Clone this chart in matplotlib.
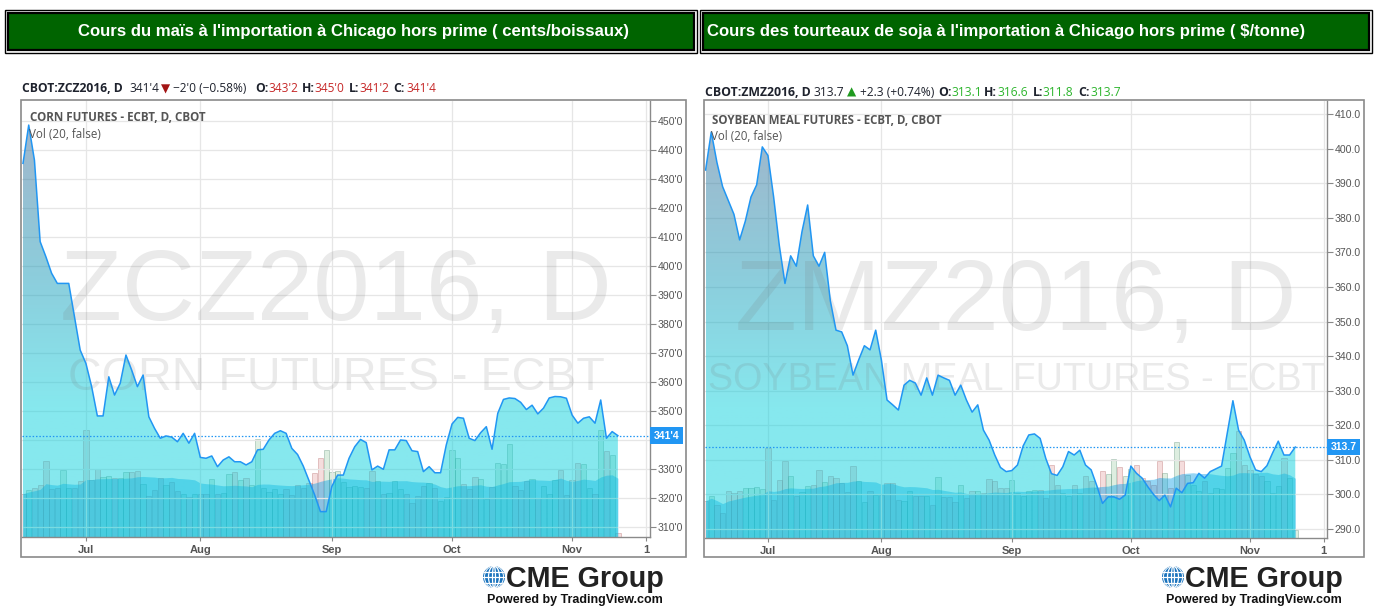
import matplotlib
matplotlib.use("Agg")
import matplotlib.pyplot as plt
import numpy as np
import pandas as pd
from matplotlib.patches import Rectangle, Polygon, Circle, Ellipse
from matplotlib.transforms import blended_transform_factory

plt.rcParams['font.family'] = ['Liberation Sans', 'DejaVu Sans']

# ---------------- data ----------------
title_left = "Cours du maïs à l'importation à Chicago hors prime ( cents/boissaux)"
title_right = "Cours des tourteaux de soja à l'importation à Chicago hors prime ( \\$/tonne)"

month_ticks = [11, 31, 54, 75, 96, 109]
month_labels = ['Jul', 'Aug', 'Sep', 'Oct', 'Nov', '1']

corn_price = [435.4, 448.6, 436.5, 408.4, 403.2, 397.5, 394, 394, 394, 382.5,
              371, 366.4, 358.4, 348.3, 348.3, 361.8, 355.5, 359.6, 369.3, 364.1,
              358.4, 362.4, 348, 344, 340.6, 341.4, 341, 339.4, 342.3, 338.9,
              342.3, 334.0, 333.7, 334.5, 330.8, 333.1, 334.2, 332.5, 332.5, 331.4,
              332.5, 336.6, 336.8, 340, 342.3, 343.2, 342.3, 337.1, 335, 331,
              326, 321, 315.3, 315.3, 324, 327.9, 327.9, 333.7, 337.7, 340.2,
              339.1, 329.7, 331, 329.9, 336.6, 336.6, 340, 339.8, 336.3, 336,
              329.1, 330.8, 328.7, 328.7, 338.3, 345.5, 347.8, 347.5, 340.6, 339.8,
              342.5, 344.6, 336.8, 349.2, 354, 354.5, 354.3, 353, 350.5, 352,
              349, 351, 354.5, 355, 354.9, 354.4, 348.6, 345.8, 347.5, 348,
              345.8, 353.8, 340.6, 342.9, 341.5]
corn_volume = [43.3, 46.7, 48.7, 52, 76, 47.7, 48.7, 66.7, 48.7, 48.7,
               56, 106.7, 56.7, 67.7, 60, 61, 58.7, 58.7, 65, 65,
               66, 52.7, 41, 46.7, 59.3, 52, 55, 46, 42.7, 40,
               42.7, 43.3, 43.3, 58.3, 43.3, 44.3, 63.3, 65, 57.3, 58.7,
               51.7, 98.3, 48.7, 45, 48.3, 43.3, 47.7, 41.7, 52, 48.7,
               54.3, 64.3, 78.7, 87, 65, 65.7, 55, 50, 51, 50,
               48.7, 66, 56, 43.3, 44.3, 56, 47.7, 42.7, 34.3, 41,
               51, 54.3, 48.7, 36, 40, 86.7, 78.7, 52.7, 47.7, 60,
               57.7, 37.7, 50, 74.3, 72.7, 92.7, 51, 46.7, 56, 57.7,
               38.7, 51, 42.7, 56.7, 66.7, 42, 57, 73.7, 72.7, 48.7,
               42.7, 106.7, 86, 81.7, 4.3]
corn_last = "341'4"

soy_price = [393.8, 404.8, 396, 389, 385, 381, 373.6, 379, 386, 389.5,
             400.5, 398, 386, 372, 361, 369, 366, 376, 383.7, 369,
             366, 370, 356, 347.5, 347, 343, 334.5, 338.9, 343, 341.8,
             347.5, 338.9, 327.3, 325.9, 324.4, 331.6, 333, 332.2, 328.7, 333.7,
             328.7, 334.5, 333.7, 333, 328.7, 331.6, 327.3, 323.8, 325.9, 318.6,
             315.7, 311.4, 307.8, 306.6, 306.9, 308.5, 314, 317.2, 317.5, 316.2,
             310.4, 306, 305.5, 308, 312.4, 311.4, 312.8, 308.5, 307.1, 302.5,
             297.4, 299.3, 299.3, 298.6, 299.8, 308.2, 306.1, 304.7, 302.2, 300,
             298.2, 299.8, 296.4, 301.8, 300.5, 303.2, 303.4, 306.1, 304.7, 306.6,
             307.4, 308.2, 317.7, 327.1, 318.6, 315.7, 310.9, 307.1, 306.6, 308.3,
             312, 315.4, 311.4, 311.4, 313.7]
soy_volume = [37.3, 42.3, 32.7, 25.3, 47.3, 45, 47.3, 50, 50, 51.3,
              49.3, 90, 37.7, 57.7, 77.3, 62.3, 42.3, 46, 52.3, 53.3,
              68.3, 55.7, 61.7, 60, 55, 46, 71.7, 57.3, 36, 47.3,
              42.7, 42.7, 55, 55, 38.3, 37.3, 47.3, 42.3, 42.3, 42.3,
              33.3, 60.7, 40.7, 40.7, 35.7, 53.3, 40, 47.3, 47.3, 45,
              59, 56.7, 50, 50, 57.7, 45, 41.7, 46.7, 48.3, 48.3,
              40, 73.3, 52.7, 45, 41.7, 53.3, 45, 61.7, 56.7, 50,
              66.7, 64, 79.3, 70.7, 61.7, 69.3, 73.3, 60, 56.7, 53.3,
              76.7, 65, 50, 96, 77.3, 63.3, 53.3, 46.7, 56.7, 45,
              50, 49.3, 70, 85, 106.7, 73.3, 68.3, 64, 61.7, 56.7,
              45, 51.7, 80, 60, 8.3]
soy_last = "313.7"

corn_yticks = list(range(310, 451, 10))
soy_yticks = list(range(290, 411, 10))

# ---------------- figure ----------------
W, H = 1381, 607
fig = plt.figure(figsize=(W / 100, H / 100), dpi=100)
fig.patch.set_facecolor('white')
renderer = fig.canvas.get_renderer()

top = fig.add_axes([0, 0, 1, 1], zorder=10)
top.set_xlim(0, W)
top.set_ylim(H, 0)
top.axis('off')
top.patch.set_alpha(0)


def fit(t, width):
    bb = t.get_window_extent(renderer)
    t.set_fontsize(t.get_fontsize() * width / bb.width)
    return t.get_fontsize()


# headers
hdr_fs = None
for x0, x1, txt, cx in [(5, 697, title_left, 353.5), (700, 1372, title_right, 1006)]:
    top.add_patch(Rectangle((x0, 9.5), x1 - x0, 43.5, fc='white', ec='black', lw=1))
    top.add_patch(Rectangle((x0 + 3, 12.5), x1 - x0 - 6, 37.5, fc='#006400', ec='black', lw=1.6))
    t = top.text(cx, 31.5, txt, ha='center', va='center', color='white',
                 fontweight='bold', fontsize=11, family='Liberation Sans')
    if hdr_fs is None:
        hdr_fs = fit(t, 557)
    else:
        t.set_fontsize(hdr_fs)


def px_rect(l, t_, r, b):
    return [l / W, 1 - b / H, (r - l) / W, (b - t_) / H]


def grad_image():
    fr = np.linspace(0, 1, 256)
    keys = [0, 0.3, 0.6, 1.0]
    cols = np.array([(134, 232, 238), (134, 232, 238), (140, 205, 220), (162, 178, 200)], float)
    a = 0.5
    cols = np.clip((cols - 255 * (1 - a)) / a, 0, 255) / 255.0
    img = np.zeros((256, 1, 4))
    for k in range(3):
        img[:, 0, k] = np.interp(fr, keys, cols[:, k])
    img[:, 0, 3] = a
    return img


def draw_chart(l, t_, r, b, x_first, bar_px, ylo, yhi, price, volume, yticks, fmt,
               last_label, frame_right, info, info_w, info_y, name, name_xy, name_w, vol_xy,
               wm1, wm1_pos, wm2, wm2_pos, logo_x):
    rect = px_rect(l, t_, r, b)
    xlim = ((l - x_first) / bar_px, (r - x_first) / bar_px)
    x = np.arange(len(price))
    price = np.asarray(price, float)
    volume = np.asarray(volume, float)
    px_per_unit = (b - t_) / (yhi - ylo)

    # frame
    top.add_patch(Rectangle((l - 1, t_ - 1), frame_right - l + 1, 557 - t_ + 1,
                            fc='none', ec='#8a8a8a', lw=1.2))

    # volume axes
    axv = fig.add_axes(rect, zorder=1)
    axv.set_xlim(*xlim)
    axv.set_ylim(0, b - t_)
    axv.axis('off')
    axv.patch.set_facecolor('white')
    axv.patch.set_visible(True)
    up = np.r_[False, np.diff(price) >= 0]
    fcs = [(0.40, 0.70, 0.45, 0.22) if u else (0.85, 0.45, 0.45, 0.24) for u in up]
    ecs = [(0.35, 0.55, 0.45, 0.40) if u else (0.70, 0.40, 0.40, 0.40) for u in up]
    axv.bar(x, volume, width=0.92, color=fcs, edgecolor=ecs, linewidth=0.6, zorder=2)
    ma = pd.Series(volume).rolling(20, min_periods=1).mean()
    axv.fill_between(x, 0, ma, color='#039be5', alpha=0.42, lw=0, zorder=3)

    # price axes
    ax = fig.add_axes(rect, zorder=2)
    ax.patch.set_alpha(0)
    poly = Polygon(np.column_stack([np.r_[x[0], x, x[-1]], np.r_[ylo, price, ylo]]),
                   closed=True, fc='none', ec='none', transform=ax.transData)
    ax.add_patch(poly)
    im = ax.imshow(grad_image(), extent=[x[0], x[-1], ylo, yhi], origin='lower',
                   aspect='auto', zorder=2, interpolation='bilinear')
    im.set_clip_path(poly)
    ax.plot(x, price, color='#2196f3', lw=1.1, zorder=4)
    ax.axhline(price[-1], color='#2196f3', lw=0.9, ls=(0, (1.2, 1.5)), zorder=5)
    ax.set_xlim(*xlim)
    ax.set_ylim(ylo, yhi)

    ax.set_axisbelow(True)
    ax.grid(True, color='#e6e6e6', lw=0.9)
    ax.set_yticks(yticks)
    ax.set_yticklabels([fmt(v) if abs(v - price[-1]) * px_per_unit > 10 else ''
                        for v in yticks])
    ax.yaxis.tick_right()
    ax.set_xticks(month_ticks)
    ax.set_xticklabels(month_labels)
    for lb in ax.get_xticklabels():
        lb.set_fontweight('bold')
    ax.tick_params(axis='y', direction='out', length=4, width=0.8, color='#888',
                   labelsize=7.6, labelcolor='#555', pad=1.5)
    ax.tick_params(axis='x', direction='out', length=3, width=0.8, color='#888',
                   labelsize=8, labelcolor='#555', pad=3)
    for s in ['left', 'top']:
        ax.spines[s].set_visible(False)
    for s in ['right', 'bottom']:
        ax.spines[s].set_color('#8a8a8a')
        ax.spines[s].set_linewidth(1.0)

    # last price label
    tr = blended_transform_factory(ax.transAxes, ax.transData)
    ax.text(1.0 + 3.5 / (r - l), price[-1], last_label, transform=tr, ha='left', va='center',
            color='white', fontweight='bold', fontsize=7.6, clip_on=False, zorder=6,
            bbox=dict(boxstyle='square,pad=0.32', fc='#2196f3', ec='none'))

    # watermark
    for s, (cx, by, w) in [(wm1, wm1_pos), (wm2, wm2_pos)]:
        t = ax.text(cx, by, s, transform=top.transData, ha='center', va='baseline',
                    color=(0.45, 0.45, 0.45, 0.15), fontsize=60, clip_on=True, zorder=3,
                    family='Liberation Sans')
        fit(t, w)

    # info line
    fs = None
    for item in info:
        s, xx, wt, col = item
        t = top.text(xx, info_y, s, ha='left', va='center', color=col, fontweight=wt,
                     fontsize=7.5, family=['Open Sans', 'DejaVu Sans'])
        if fs is None:
            fs = fit(t, info_w)
        else:
            t.set_fontsize(fs if wt == 'bold' else fs * 0.98)

    t = top.text(name_xy[0], name_xy[1], name, ha='left', va='center', color='#555',
                 fontweight='bold', fontsize=8, family='Open Sans')
    nfs = fit(t, name_w)
    top.text(vol_xy[0], vol_xy[1], 'Vol (20, false)', ha='left', va='center', color='#555',
             fontsize=nfs, family='Open Sans')

    # logo
    gx, gy = logo_x, 577
    top.add_patch(Circle((gx, gy), 11, fc='#1a73bd', ec='none'))
    clip = Circle((gx, gy), 11, transform=top.transData)
    for art in [Ellipse((gx, gy), 11, 22, fc='none', ec='white', lw=0.9),
                Ellipse((gx, gy), 3, 22, fc='none', ec='white', lw=0.9),
                Ellipse((gx, gy), 19, 22, fc='none', ec='white', lw=0.7)]:
        top.add_patch(art)
        art.set_clip_path(clip)
    for yy in (gy - 5.5, gy, gy + 5.5):
        ln, = top.plot([gx - 11, gx + 11], [yy, yy], color='white', lw=0.9)
        ln.set_clip_path(clip)
    t = top.text(gx + 12, 587, 'CME Group', ha='left', va='baseline', color='#222',
                 fontweight='bold', fontsize=20, family='Liberation Sans')
    fit(t, 158)
    t = top.text(gx - 7, 600, 'Powered by TradingView.com', ha='left', va='center',
                 color='#111', fontweight='bold', fontsize=8, family='Liberation Sans')
    fit(t, 177)


def corn_fmt(v):
    return f"{int(v)}'0"


def soy_fmt(v):
    return f"{v:.1f}"


DK = '#1e222d'
RED = '#c62828'
GRN = '#2db52d'
corn_info = [("CBOT:ZCZ2016, D", 21.7, 'bold', DK), ("341'4", 129, 'normal', DK),
             ("\u25BC", 160.5, 'normal', '#a31515'), ("\u22122'0 (\u22120.58%)", 173, 'normal', DK),
             ("O:", 255, 'bold', DK), ("343'2", 268.5, 'normal', RED),
             ("H:", 302, 'bold', DK), ("345'0", 314, 'normal', RED),
             ("L:", 349, 'bold', DK), ("341'2", 359, 'normal', RED),
             ("C:", 393, 'bold', DK), ("341'4", 406, 'normal', RED)]
soy_info = [("CBOT:ZMZ2016, D", 705, 'bold', DK), ("313.7", 814, 'normal', DK),
            ("\u25B2", 846.5, 'normal', '#1f9a1f'), ("+2.3 (+0.74%)", 860, 'normal', DK),
            ("O:", 938, 'bold', DK), ("313.1", 951.7, 'normal', GRN),
            ("H:", 984, 'bold', DK), ("316.6", 997.7, 'normal', GRN),
            ("L:", 1033, 'bold', DK), ("311.8", 1043, 'normal', GRN),
            ("C:", 1078, 'bold', DK), ("313.7", 1090.7, 'normal', GRN)]

draw_chart(22, 101, 650, 537, 23.0, 5.72, 306.55, 456.9, corn_price, corn_volume,
           corn_yticks, corn_fmt, corn_last, 686, corn_info, 101, 89,
           "CORN FUTURES - ECBT, D, CBOT", (30, 117.5), 177, (29, 134),
           "ZCZ2016, D", (336, 320, 552), "CORN FUTURES - ECBT", (336, 390, 537), 494)

draw_chart(705, 101, 1327, 538, 705.6, 5.67, 287.4, 413.77, soy_price, soy_volume,
           soy_yticks, soy_fmt, soy_last, 1364, soy_info, 105, 92,
           "SOYBEAN MEAL FUTURES - ECBT, D, CBOT", (712.5, 120.5), 231, (711.5, 136.5),
           "ZMZ2016, D", (1016, 330, 562), "SOYBEAN MEAL FUTURES - ECBT", (1016, 390, 618), 1173)

fig.savefig('out.png', dpi=100, facecolor='white')
